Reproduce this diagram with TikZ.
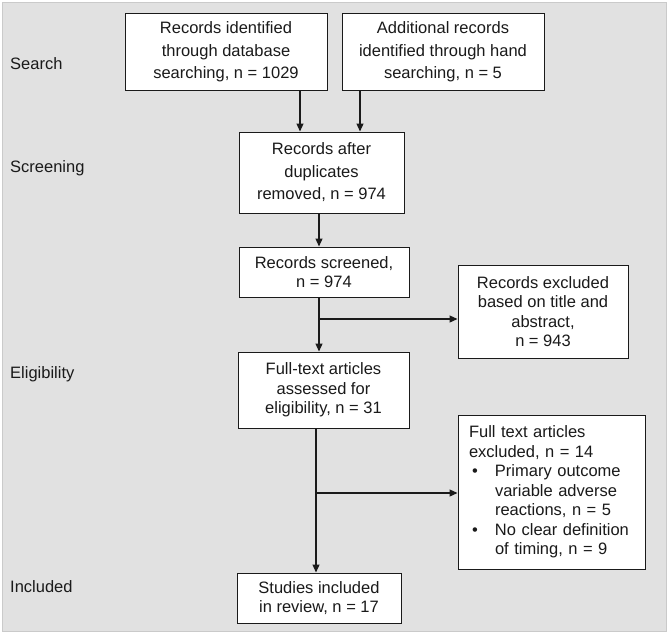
\documentclass[tikz,border=0pt]{standalone}
\usepackage{fontspec}
\setmainfont{Liberation Sans}
\usetikzlibrary{arrows.meta}
\definecolor{bggray}{HTML}{E1E1E1}
\definecolor{bgline}{HTML}{CACACA}
\definecolor{ink}{HTML}{1A1A1A}
\begin{document}
\begin{tikzpicture}[x=1pt,y=-1pt,
  box/.style={draw=ink, line width=1pt, fill=white, rectangle, inner sep=0pt, align=center, text=ink,
    font=\fontsize{16.5pt}{19.5pt}\selectfont},
  topbox/.style={box, font=\fontsize{16.5pt}{22.5pt}\selectfont},
  stage/.style={anchor=west, inner sep=0pt, text=ink, font=\fontsize{16.5pt}{19.5pt}\selectfont},
  arr/.style={draw=ink, line width=1.2pt, -{Triangle[width=7pt,length=8pt]}},
  link/.style={draw=ink, line width=1.2pt}]
\useasboundingbox (0,0) rectangle (669,634);
\draw[draw=bgline, fill=bggray, line width=0.8pt] (2,2) rectangle (666,631);

% stage labels
\node[stage] (ls) at (10,64) {Search};
\node[stage] (lsc) at (10,168) {Screening};
\node[stage] (le) at (10,374) {Eligibility};
\node[stage] (li) at (10,587) {Included};

% boxes
\node[topbox, minimum width=202pt, minimum height=76pt] (b1) at (226,52)
  {Records identified\\through database\\searching, n = 1029};
\node[topbox, minimum width=202pt, minimum height=76pt] (b2) at (443,52)
  {Additional records\\identified through hand\\searching, n = 5};
\node[topbox, minimum width=165pt, minimum height=81pt] (b3) at (321.5,172.5)
  {Records after\\duplicates\\removed, n = 974};
\node[box, minimum width=170pt, minimum height=50pt] (b4) at (324,272)
  {Records screened,\\n = 974};
\node[box, minimum width=170pt, minimum height=93pt] (ex1) at (543,311.5)
  {Records excluded\\based on title and\\abstract,\\n = 943};
\node[box, minimum width=171pt, minimum height=76pt] (b5) at (323.5,390)
  {Full-text articles\\assessed for\\eligibility, n = 31};
\node[box, minimum width=187pt, minimum height=154pt, align=left, text width=165pt, inner xsep=11pt] (ex2) at (551.5,492)
  {Full text articles\\excluded, n = 14\\
   \makebox[26pt][l]{\hspace{3pt}\textbullet}Primary outcome\\
   \hspace*{26pt}variable adverse\\
   \hspace*{26pt}reactions, n = 5\\
   \makebox[26pt][l]{\hspace{3pt}\textbullet}No clear definition\\
   \hspace*{26pt}of timing, n = 9};
\node[box, minimum width=164pt, minimum height=50pt] (b6) at (319,598)
  {Studies included\\in review, n = 17};

% connector guide coordinates
\coordinate (x1) at (300,0);
\coordinate (x2) at (360,0);
\coordinate (x3) at (319,0);
\coordinate (x4) at (316,0);
\coordinate (j1) at (319,319);
\coordinate (j2) at (316,493);

% connectors
\draw[arr] (b1.south -| x1) -- (b3.north -| x1);
\draw[arr] (b2.south -| x2) -- (b3.north -| x2);
\draw[arr] (b3.south -| x3) -- (b4.north -| x3);
\draw[arr] (b4.south -| x3) -- (b5.north -| x3);
\draw[arr] (j1) -- (ex1.west |- j1);
\draw[arr] (b5.south -| x4) -- (b6.north -| x4);
\draw[arr] (j2) -- (ex2.west |- j2);
\end{tikzpicture}
\end{document}
